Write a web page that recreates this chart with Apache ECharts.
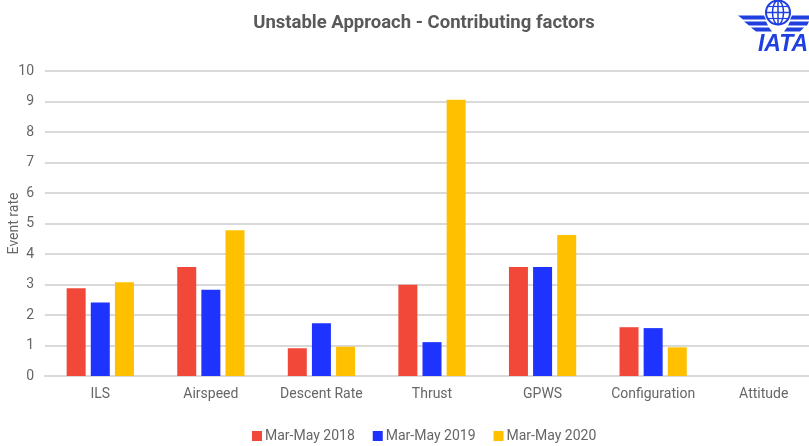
<!DOCTYPE html>
<html><head><meta charset="utf-8">
<script src="https://cdn.jsdelivr.net/npm/echarts@6/dist/echarts.min.js"></script>
<style>html,body{margin:0;padding:0;background:#fff}#c{width:809px;height:446px}</style>
</head><body><div id="c"></div>
<script>
const categories = ['ILS','Airspeed','Descent Rate','Thrust','GPWS','Configuration','Attitude'];
const s2018 = [2.88, 3.57, 0.91, 2.99, 3.57, 1.60, 0];
const s2019 = [2.41, 2.83, 1.73, 1.11, 3.57, 1.57, 0];
const s2020 = [3.07, 4.78, 0.96, 9.06, 4.62, 0.94, 0];
const seriesNames = ['Mar-May 2018','Mar-May 2019','Mar-May 2020'];
const colors = ['#f2483a','#1f33ff','#ffc000'];

const chart = echarts.init(document.getElementById('c'), null, {renderer:'canvas'});
const mk = (name, data, color) => ({
  name, type:'bar', data, barWidth:19, barGap:'27%',
  itemStyle:{color}
});
const lab = {color:'#666666', fontFamily:'Roboto, sans-serif', fontSize:14};
chart.setOption({
  animation:false,
  backgroundColor:'#fff',
  title:{text:'Unstable Approach - Contributing factors', left:419, top:9, textAlign:'center',
    textStyle:{fontFamily:'Liberation Sans Narrow, Roboto, sans-serif', fontWeight:'bold', fontSize:18.5, color:'#595959'}},
  legend:{top:429, left:252, itemWidth:10, itemHeight:10, itemGap:18, icon:'rect', padding:0,
    textStyle:Object.assign({padding:[0,0,0,-2]}, lab)},
  grid:{left:45, top:71, width:774, height:305, outerBoundsMode:'none', containLabel:false},
  xAxis:{type:'category', data:categories,
    axisLine:{show:true, lineStyle:{color:'#d9d9d9', width:2}}, axisTick:{show:false},
    axisLabel:Object.assign({margin:11}, lab)},
  yAxis:{type:'value', min:0, max:10, interval:1, name:'Event rate', nameLocation:'middle', nameGap:24,
    nameMoveOverlap:false,
    nameTextStyle:lab,
    axisLine:{show:false}, axisTick:{show:false},
    axisLabel:Object.assign({margin:11}, lab),
    splitLine:{lineStyle:{color:'#d9d9d9', width:2}}},
  series:[mk(seriesNames[0], s2018, colors[0]), mk(seriesNames[1], s2019, colors[1]), mk(seriesNames[2], s2020, colors[2])],
  graphic:[
    {type:'group', left:738, top:-2, children:[
      {type:'circle', shape:{cx:40, cy:12, r:12}, style:{fill:'#fff', stroke:'#1f3fe0', lineWidth:2}},
      {type:'ellipse', shape:{cx:40, cy:12, rx:5.5, ry:12}, style:{fill:'none', stroke:'#1f3fe0', lineWidth:1.5}},
      {type:'line', shape:{x1:40, y1:0, x2:40, y2:24}, style:{stroke:'#1f3fe0', lineWidth:1.5}},
      {type:'line', shape:{x1:28, y1:12, x2:52, y2:12}, style:{stroke:'#1f3fe0', lineWidth:1.5}},
      {type:'line', shape:{x1:30, y1:6, x2:50, y2:6}, style:{stroke:'#1f3fe0', lineWidth:1.2}},
      {type:'line', shape:{x1:30, y1:18, x2:50, y2:18}, style:{stroke:'#1f3fe0', lineWidth:1.2}},
      {type:'polygon', shape:{points:[[0,15],[26,15],[28,19],[5,19]]}, style:{fill:'#1f3fe0'}},
      {type:'polygon', shape:{points:[[6,21],[28,21],[30,25],[11,25]]}, style:{fill:'#1f3fe0'}},
      {type:'polygon', shape:{points:[[13,27],[31,27],[34,31],[18,31]]}, style:{fill:'#1f3fe0'}},
      {type:'polygon', shape:{points:[[71,15],[54,15],[52,19],[71,19]]}, style:{fill:'#1f3fe0'}},
      {type:'polygon', shape:{points:[[71,21],[52,21],[50,25],[69,25]]}, style:{fill:'#1f3fe0'}},
      {type:'polygon', shape:{points:[[66,27],[49,27],[46,31],[62,31]]}, style:{fill:'#1f3fe0'}},
      {type:'text', x:45, y:33, style:{text:'IATA', textAlign:'center', fill:'#1f3fe0',
        font:'italic bold 23px Liberation Sans, Arial, sans-serif'}}
    ]}
  ]
});
</script></body></html>
